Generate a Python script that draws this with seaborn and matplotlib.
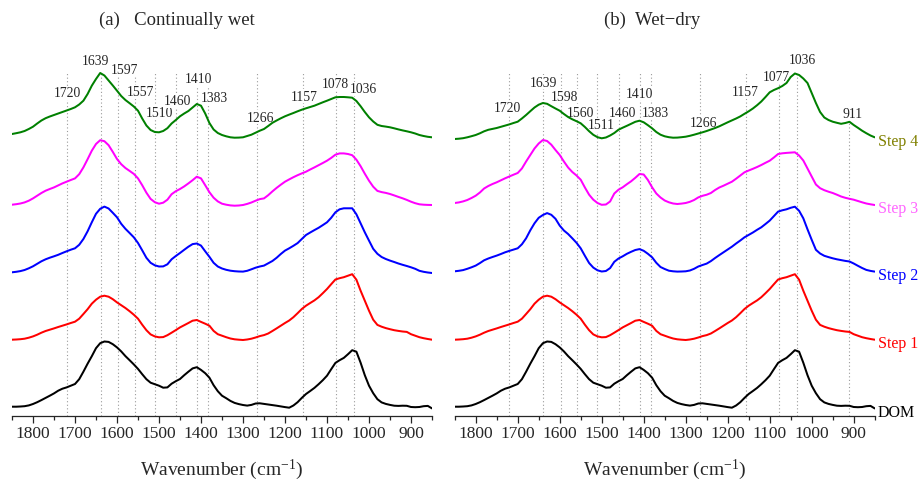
import numpy as np
import pandas as pd
import matplotlib
matplotlib.use("Agg")
import matplotlib.pyplot as plt
from matplotlib.ticker import MultipleLocator
import seaborn as sns

sns.set_style("ticks")
plt.rcParams["font.family"] = ["Liberation Serif", "DejaVu Serif"]
plt.rcParams["mathtext.fontset"] = "custom"
plt.rcParams["mathtext.rm"] = "Liberation Serif"
plt.rcParams["mathtext.it"] = "Liberation Serif:italic"
plt.rcParams["lines.solid_joinstyle"] = "round"
plt.rcParams["lines.solid_capstyle"] = "round"

# ---------------- data ----------------
wavenumber = np.arange(1850, 849, -10)  # 1850 ... 850 cm-1

dom = [0, 0, 0.2, 0.5, 1.3, 2.7, 4.5, 6.6, 8.8, 11,
       13.3, 16, 18, 19.3, 21, 22.7, 27.5, 35, 43, 50.5,
       58.5, 63.5, 65.2, 64.8, 62.5, 59.3, 55.3, 50.6, 46.5, 42.3,
       37.8, 32.5, 27.5, 24, 22.5, 21, 19, 19.3, 23, 25.5,
       27.7, 31.5, 35, 38.3, 39.5, 36.8, 33.5, 29, 21.5, 15.5,
       11, 8.5, 5.8, 3.8, 2.6, 1.7, 1.1, 1.8, 3.2, 3.4,
       2.8, 2.2, 1.6, 1, 0.3, -0.4, -1, 1.2, 4.5, 8.8,
       12.7, 15.7, 18.8, 22.5, 26.5, 31, 37.5, 43.8, 46.5, 48.8,
       52.5, 56.5, 55, 44, 31.5, 21, 13.5, 7.5, 4.3, 2.8,
       1.8, 1, 0.8, 1, 0.9, -0.3, -0.5, -0.3, 0.5, 0.8, -1.7]

step1 = [0, 0.2, 0.5, 1, 2, 3.3, 5, 7, 8.7, 10,
         11.3, 12.7, 14, 15.3, 16.7, 18, 21, 25.7, 30.5, 36,
         40, 43, 44, 43, 40.5, 37.3, 34.5, 31.7, 28.5, 25,
         21, 15, 9.5, 5.3, 3.3, 2.4, 2.6, 4.5, 7, 9.6,
         12.3, 14.5, 16.7, 19, 19.7, 17.8, 16, 14, 8.8, 5.5,
         4, 2.5, 1.2, 0.4, 0, -0.3, 0.2, 1, 2.2, 3.6,
         4.6, 6.2, 8.7, 11.3, 14, 16.7, 19.2, 22.5, 26.5, 30.7,
         34, 36.7, 39.3, 42.5, 46.5, 50.7, 55.5, 60.2, 61.5, 62.5,
         64, 65.5, 60, 49, 39, 29, 20, 14.8, 13, 11.6,
         10.5, 9.5, 8.8, 8.2, 7.8, 5.5, 4, 2.5, 1.5, 0.7, 0]

wet_step2 = [0, 0.5, 1.2, 2.3, 4, 6, 8.5, 11, 13, 14.6,
             16, 17.5, 19.3, 21, 22.6, 24, 27.5, 33.3, 41, 50,
             58.5, 63.5, 65.7, 63.8, 59.5, 55, 48.5, 43.5, 39.3, 35,
             29.3, 22, 14.5, 9.5, 7, 5.8, 5.9, 8, 13, 16.3,
             19.3, 22.5, 25.6, 28.2, 28.8, 26.7, 21, 15.5, 9.5, 5.8,
             3.8, 2.5, 1.6, 1.1, 0.8, 0.7, 1.5, 3, 4.6, 5.8,
             6.7, 9, 11.3, 14.5, 18.3, 21.7, 24, 26.5, 29.2, 33.3,
             37.3, 39.8, 42.2, 44.5, 47.2, 50, 54.5, 60, 63, 64,
             64, 64, 58, 49, 40, 31.7, 23.5, 18.5, 15.3, 13.3,
             11.7, 10.3, 8.8, 7.5, 6.3, 5, 3.5, 1.5, 0.5, -0.2, -0.7]

wet_step3 = [0, 0.5, 1.2, 2.3, 4, 6.3, 9, 11.7, 14, 15.7,
             17.3, 19.3, 21.3, 23, 24.7, 26.3, 30.5, 37.3, 45.5, 54,
             60.7, 64.5, 63.5, 59.5, 52.8, 45.7, 40.5, 36.7, 33.8, 30.8,
             26.3, 19.5, 12, 5.8, 2.5, 1, 2, 5, 10.5, 13.5,
             15.7, 18.3, 21.3, 24.5, 28, 26.3, 19.5, 12.5, 7, 3.3,
             1, 0, -0.7, -1, -0.8, -0.3, 0.8, 2.2, 4, 5.6,
             6.3, 9.5, 13.3, 16.8, 20, 23, 25.3, 27.5, 29.5, 31.3,
             33, 35.2, 37.3, 39.5, 41.7, 44, 46.8, 50, 51.3, 51.3,
             50.7, 49.5, 45, 38.5, 31, 24, 18, 13.8, 12.6, 11.8,
             10.7, 9.3, 7.8, 6.4, 4.8, 3, 1.5, 0.4, 0, -0.2, -0.3]

wet_step4 = [0, 0.8, 1.7, 3, 5, 7.3, 10.5, 13.5, 15.8, 17.5,
             19, 20.5, 22, 23.5, 25, 26.7, 29.5, 33.3, 40, 48.3,
             55, 61, 58.5, 53.5, 48.5, 43.3, 38, 34, 30.8, 27.5,
             23.3, 15.5, 8.5, 4, 2, 1.7, 3, 5.8, 10.5, 14,
             17.7, 20.5, 23, 26.5, 30, 28.3, 20.5, 11, 4.5, 1,
             -1, -2.3, -3.3, -3.7, -3.6, -3.3, -2, -0.7, 1.3, 3.3,
             5, 8, 11.2, 13.5, 15.7, 17.7, 19.4, 21, 22.7, 24.3,
             25.7, 27, 28.3, 30, 31.7, 33.3, 35, 36.7, 37, 37,
             36.7, 36.3, 33, 27.8, 22, 16.7, 12.5, 9.2, 8, 7.4,
             6.7, 5.7, 4.6, 3.6, 2.7, 1.7, 0.5, -1, -2, -2.8, -3.3]

wd_step2 = [0, 0.5, 1.2, 2.5, 4, 5.7, 8.2, 11, 12.8, 14.3,
            15.7, 17.3, 19, 20.4, 21.7, 23, 27, 33, 41, 48,
            53.5, 56.3, 58.2, 56.5, 52.5, 45.7, 40.8, 37.3, 33, 28.5,
            23, 15.5, 8.3, 3.7, 1, -0.2, 0.3, 3.2, 9.5, 12.8,
            15, 17.5, 19.5, 21.3, 22.2, 20.5, 17.5, 14, 8.5, 4.3,
            2.3, 0.6, 0, -0.3, -0.2, 0, 0.8, 2.5, 4.8, 6.3,
            7.7, 10.2, 13.3, 16.2, 19, 21.8, 24.6, 27.8, 30.8, 34,
            36.4, 38.8, 41.5, 44, 47.3, 50.7, 55.2, 59.7, 61, 62,
            63.5, 64.6, 60.5, 53, 42, 31.5, 21.5, 17.8, 15.5, 14.2,
            13, 12, 11.2, 10.4, 9.8, 7.8, 5.5, 3.3, 1.4, 0.4, -0.3]

wd_step3 = [0, 0.6, 1.6, 3, 5, 7.3, 10.5, 14.5, 17, 19,
            20.7, 22.7, 24.7, 26.5, 28.3, 30, 34.5, 41.5, 48, 54.5,
            59.5, 63, 62, 58.3, 53, 48, 41.5, 35.5, 31, 27.5,
            23.3, 15.5, 8.3, 3.3, 0, -1.8, -1.5, 1.5, 9.5, 13.3,
            15.7, 18.8, 21.7, 25.2, 29, 28.5, 23, 15.7, 9.5, 5.5,
            2.5, 0.7, -0.5, -1, -0.6, 0, 1.2, 3, 5.6, 7.2,
            8.3, 10, 13, 15.5, 17.3, 19.3, 21.3, 24.3, 27.5, 30.7,
            32.5, 34.2, 36, 38, 40.2, 42.3, 45.5, 49, 49.7, 50.1,
            50.4, 50.7, 47.5, 42.5, 34.5, 26.5, 18.5, 14.8, 12.8, 11.3,
            10, 8.3, 6.5, 5.2, 4.2, 3.3, 2, 0.7, -0.5, -1.3, -2]

wd_step4 = [0, 0.3, 0.8, 1.7, 2.8, 4, 5.7, 7.7, 9.2, 10.1,
            11, 12.2, 13.4, 14.6, 16, 17.3, 20.5, 24, 27.8, 31.5,
            34.3, 36, 35.2, 32.8, 30.5, 28.3, 25, 22, 19.7, 17.8,
            15.7, 12, 7.8, 4.2, 1.8, 0.7, 1.5, 3.5, 6, 9.3,
            11.3, 13.2, 15.2, 17.2, 18.3, 16.7, 13.8, 10.7, 7, 4.3,
            2.7, 1.8, 1.3, 1.4, 1.8, 2.3, 3.2, 4.3, 5.5, 6.7,
            8, 9.5, 11, 12.7, 14.7, 16.7, 18.6, 20.5, 22.6, 25.2,
            27.7, 30.5, 33.8, 37.5, 42, 46.7, 49, 50.8, 53, 56,
            62, 65.5, 64, 60.5, 56, 46, 36, 27, 21.5, 19,
            17.3, 16.2, 15.2, 16, 17.2, 14, 11.2, 8.3, 5.8, 3.5, 1.7]

samples = ["DOM", "Step 1", "Step 2", "Step 3", "Step 4"]
wet_curves = [dom, step1, wet_step2, wet_step3, wet_step4]
wd_curves = [dom, step1, wd_step2, wd_step3, wd_step4]

wet_peaks = [1720, 1639, 1597, 1557, 1510, 1460, 1410, 1383, 1266, 1157, 1078, 1036]
wd_peaks = [1720, 1639, 1598, 1560, 1511, 1460, 1410, 1383, 1266, 1157, 1077, 1036, 911]

# ---------------- layout / style ----------------
line_colors = ["black", "#ff0000", "#0000ff", "#ff00ff", "#008000"]
text_colors = ["black", "#ff0000", "#0000ff", "#ff66ff", "#808000"]
wet_offsets = [9.3, 76.3, 143.7, 211.3, 282]
wd_offsets = [9.3, 76.3, 144.7, 213, 277]

wet_label_xy = [(1717, 323), (1650, 355.3), (1581, 346), (1543.6, 324.3), (1497.6, 303),
                (1454.8, 315.3), (1404.8, 337), (1369, 318.7), (1258, 298.7), (1155, 319.7),
                (1079.3, 332), (1013.6, 327)]
wd_label_xy = [(1724.8, 308), (1639, 333.7), (1587.4, 319.7), (1549.3, 303.7), (1501.7, 291),
               (1451, 303.7), (1410.5, 322.7), (1371.4, 303.7), (1256.4, 293.7), (1158.8, 324.3),
               (1085, 339.7), (1022.4, 356.3), (903.3, 302.7)]
wd_line_top = [343.7] * 12 + [295]
wet_line_top = [343.7] * 12

W, H = 920, 481
fig = plt.figure(figsize=(W / 100, H / 100), dpi=100)
ax_h = 362
ax1 = fig.add_axes([12 / W, 64 / H, 420 / W, ax_h / H])
ax2 = fig.add_axes([454.7 / W, 64 / H, 420 / W, ax_h / H])


def draw_panel(ax, curves, offsets, peaks, label_xy, line_top, step_labels):
    frames = []
    for name, vals, off in zip(samples, curves, offsets):
        frames.append(pd.DataFrame({"wavenumber": wavenumber,
                                    "absorbance": np.asarray(vals, dtype=float) + off,
                                    "sample": name}))
    df = pd.concat(frames, ignore_index=True)
    sns.lineplot(data=df, x="wavenumber", y="absorbance", hue="sample",
                 hue_order=samples, palette=line_colors, legend=False, ax=ax,
                 estimator=None, sort=False, linewidth=1.45, zorder=3)
    ax.vlines(peaks, 0, line_top, colors="#9a9a9a", linestyles=(0, (1, 2.2)),
              linewidth=0.8, zorder=1)
    for p, (x, y) in zip(peaks, label_xy):
        ax.text(x, y, str(p), ha="center", va="center", fontsize=9.8, zorder=2,
                bbox=dict(facecolor="white", edgecolor="none", pad=0.3))
    if step_labels:
        for name, vals, off, c in zip(samples, curves, offsets, text_colors):
            ax.annotate(name, xy=(850, vals[-1] + off), xytext=(3, -3.5),
                        textcoords="offset pixels", ha="left", va="center",
                        color=c, fontsize=11.5, annotation_clip=False)
    ax.set_xlim(1850, 850)
    ax.set_ylim(0, ax_h)
    ax.set_yticks([])
    ax.set_ylabel("")
    for s in ["left", "right", "top"]:
        ax.spines[s].set_visible(False)
    ax.spines["bottom"].set_linewidth(0.9)
    ax.set_xticks(np.arange(1800, 899, -100))
    ax.xaxis.set_minor_locator(MultipleLocator(50))
    ax.tick_params(axis="x", which="major", direction="out", length=4.8, width=0.9,
                   labelsize=12.5, pad=2)
    ax.tick_params(axis="x", which="minor", direction="out", length=2.7, width=0.9)
    ax.set_xlabel("Wavenumber (cm$^{-1}$)", fontsize=14, labelpad=11)
    ax.patch.set_alpha(0)


draw_panel(ax1, wet_curves, wet_offsets, wet_peaks, wet_label_xy, wet_line_top, False)
draw_panel(ax2, wd_curves, wd_offsets, wd_peaks, wd_label_xy, wd_line_top, True)

fig.text(176.7 / W, 1 - 20.7 / H, "(a)   Continually wet", ha="center", va="center", fontsize=13.5)
fig.text(652.5 / W, 1 - 20.7 / H, "(b)  Wet\u2212dry", ha="center", va="center", fontsize=13.5)

fig.savefig("out.png", dpi=100)
